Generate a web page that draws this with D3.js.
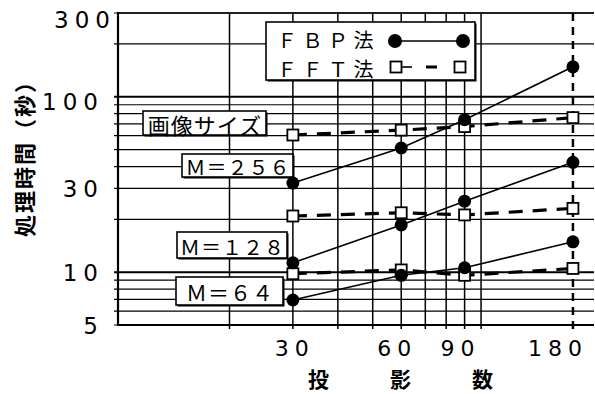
<!DOCTYPE html>
<html><head><meta charset="utf-8">
<script src="https://cdn.jsdelivr.net/npm/d3@7"></script>
<style>body{margin:0;background:#fff}svg{display:block}</style>
</head><body><svg id="c" width="595" height="394"></svg>
<script>
// ---- data ----
const projections = [30, 60, 90, 180];
const fbp256 = [32.2, 51, 74, 148];
const fbp128 = [11.3, 18.6, 25.4, 42.3];
const fbp64  = [6.94, 9.6, 10.6, 14.9];
const fft256 = [60.5, 64.5, 67.6, 76];
const fft128 = [20.9, 21.8, 21.2, 23.1];
const fft64  = [9.8, 10.3, 9.6, 10.5];
const sizeLabels = ["Ｍ＝２５６", "Ｍ＝１２８", "Ｍ＝６４"];
const yTickValues = [5, 10, 30, 100, 300];
const xTickValues = [30, 60, 90, 180];
const yGridValues = [5, 6, 7, 8, 9, 10, 20, 30, 40, 50, 60, 70, 80, 90, 100, 200, 300];
const xGridValues = [20, 30, 40, 50, 60, 70, 80, 90, 100];
const xDashedGrid = [180];
const legendLabels = ["ＦＢＰ法", "ＦＦＴ法"];
const yTitle = "処理時間（秒）";
const xTitle = "投影数";
const sizeTitle = "画像サイズ";

// ---- scales ----
const svg = d3.select("#c");
const x = d3.scaleLog().domain([9.8, 200]).range([118, 589.4]);
const y = d3.scaleLog().domain([5, 300]).range([325, 13]);
const right = 594;
const CJK = "'Noto Sans CJK JP', sans-serif";
const NUM = "'DejaVu Sans', sans-serif";

// horizontal grid
svg.append("g").selectAll("line").data(yGridValues).join("line")
  .attr("x1", 114).attr("x2", right)
  .attr("y1", d => y(d)).attr("y2", d => y(d))
  .attr("stroke", "#000")
  .attr("stroke-width", d => (d === 10 || d === 100) ? 2 : 1.2);

// vertical grid
svg.append("g").selectAll("line").data(xGridValues).join("line")
  .attr("x1", d => x(d)).attr("x2", d => x(d))
  .attr("y1", 13).attr("y2", 329)
  .attr("stroke", "#000").attr("stroke-width", 1.5);
svg.append("g").selectAll("line").data(xDashedGrid).join("line")
  .attr("x1", d => x(d)).attr("x2", d => x(d))
  .attr("y1", 13).attr("y2", 329)
  .attr("stroke", "#000").attr("stroke-width", 2.5)
  .attr("stroke-dasharray", "8,6");

// axis lines
svg.append("line").attr("x1", 118).attr("x2", 118).attr("y1", 12).attr("y2", 326)
  .attr("stroke", "#000").attr("stroke-width", 2.2);
svg.append("line").attr("x1", 118).attr("x2", right).attr("y1", y(5)).attr("y2", y(5))
  .attr("stroke", "#000").attr("stroke-width", 2);
svg.append("line").attr("x1", 118).attr("x2", right).attr("y1", y(300)).attr("y2", y(300))
  .attr("stroke", "#000").attr("stroke-width", 1.6);

// y tick labels
svg.append("g").selectAll("text").data(yTickValues).join("text")
  .attr("x", d => d === 300 ? 116 : 104)
  .attr("y", d => y(d) + (d === 300 ? 7 : (d === 100 ? 5 : 1)))
  .attr("text-anchor", "end").attr("dominant-baseline", "central")
  .attr("font-family", NUM).attr("font-size", 23).attr("letter-spacing", 6)
  .text(d => d);

// x tick labels
svg.append("g").selectAll("text").data(xTickValues).join("text")
  .attr("x", d => x(d) + (d === 180 ? 15 : (d === 30 ? 22 : 16)))
  .attr("y", 356)
  .attr("text-anchor", "end")
  .attr("font-family", NUM).attr("font-size", 22).attr("letter-spacing", 6)
  .text(d => d);

// axis titles
svg.append("text").attr("transform", "translate(23,153) rotate(-90)")
  .attr("text-anchor", "middle").attr("dominant-baseline", "central")
  .attr("font-family", CJK).attr("font-size", 22).attr("font-weight", "bold")
  .attr("letter-spacing", 2)
  .text(yTitle);
svg.append("text").attr("x", 308).attr("y", 387)
  .attr("font-family", CJK).attr("font-size", 21).attr("font-weight", "bold")
  .attr("letter-spacing", 61)
  .text(xTitle);

// annotation boxes
function box(x0, y0, w, h, label, fs, ls) {
  const g = svg.append("g");
  g.append("rect").attr("x", x0 + 1.5).attr("y", y0 + 1.5).attr("width", w).attr("height", h).attr("fill", "#000");
  g.append("rect").attr("x", x0).attr("y", y0).attr("width", w).attr("height", h)
    .attr("fill", "#fff").attr("stroke", "#000").attr("stroke-width", 1.6);
  g.append("text").attr("x", x0 + w / 2 + ls / 2).attr("y", y0 + h / 2 + 1)
    .attr("text-anchor", "middle").attr("dominant-baseline", "central")
    .attr("font-family", CJK).attr("font-size", fs).attr("letter-spacing", ls)
    .text(label);
}
box(143, 111, 123, 24, sizeTitle, 22, 1);
box(182, 154, 111, 23, sizeLabels[0], 20, 1);
box(177, 232, 110, 26, sizeLabels[1], 20, 1);
box(176, 277, 107, 28, sizeLabels[2], 21, 1);

// series
const fbpSeries = [fbp256, fbp128, fbp64];
const fftSeries = [fft256, fft128, fft64];
const line = d3.line().x((d, i) => x(projections[i])).y(d => y(d));

svg.append("g").selectAll("path").data(fftSeries).join("path")
  .attr("d", line).attr("fill", "none").attr("stroke", "#000")
  .attr("stroke-width", 3.2).attr("stroke-dasharray", "14,10");
svg.append("g").selectAll("path").data(fbpSeries).join("path")
  .attr("d", line).attr("fill", "none").attr("stroke", "#000").attr("stroke-width", 1.6);

const sq = 11;
fftSeries.forEach(s => {
  svg.append("g").selectAll("rect").data(s).join("rect")
    .attr("x", (d, i) => x(projections[i]) - sq / 2)
    .attr("y", d => y(d) - sq / 2)
    .attr("width", sq).attr("height", sq)
    .attr("fill", "#fff").attr("stroke", "#000").attr("stroke-width", 1.8);
});
fbpSeries.forEach(s => {
  svg.append("g").selectAll("circle").data(s).join("circle")
    .attr("cx", (d, i) => x(projections[i])).attr("cy", d => y(d))
    .attr("r", 6.5).attr("fill", "#000");
});

// legend
const lg = svg.append("g");
lg.append("rect").attr("x", 267.5).attr("y", 23.5).attr("width", 209).attr("height", 58).attr("fill", "#000");
lg.append("rect").attr("x", 266).attr("y", 22).attr("width", 209).attr("height", 58)
  .attr("fill", "#fff").attr("stroke", "#000").attr("stroke-width", 1.6);
lg.selectAll("text").data(legendLabels).join("text")
  .attr("x", 277).attr("y", (d, i) => 47.5 + i * 29.5)
  .attr("font-family", CJK).attr("font-size", 20).attr("letter-spacing", 5.5)
  .text(d => d);
lg.append("line").attr("x1", 395).attr("x2", 463).attr("y1", 41).attr("y2", 41)
  .attr("stroke", "#000").attr("stroke-width", 1.6);
lg.selectAll("circle").data([395, 463]).join("circle")
  .attr("cx", d => d).attr("cy", 41).attr("r", 7).attr("fill", "#000");
lg.append("line").attr("x1", 396).attr("x2", 412).attr("y1", 67).attr("y2", 67)
  .attr("stroke", "#000").attr("stroke-width", 1.6);
lg.append("line").attr("x1", 426).attr("x2", 437).attr("y1", 67).attr("y2", 67)
  .attr("stroke", "#000").attr("stroke-width", 3);
lg.selectAll("rect.m").data([396, 460]).join("rect").attr("class", "m")
  .attr("x", d => d - 5.5).attr("y", 61.5).attr("width", 11).attr("height", 11)
  .attr("fill", "#fff").attr("stroke", "#000").attr("stroke-width", 1.8);
</script></body></html>
